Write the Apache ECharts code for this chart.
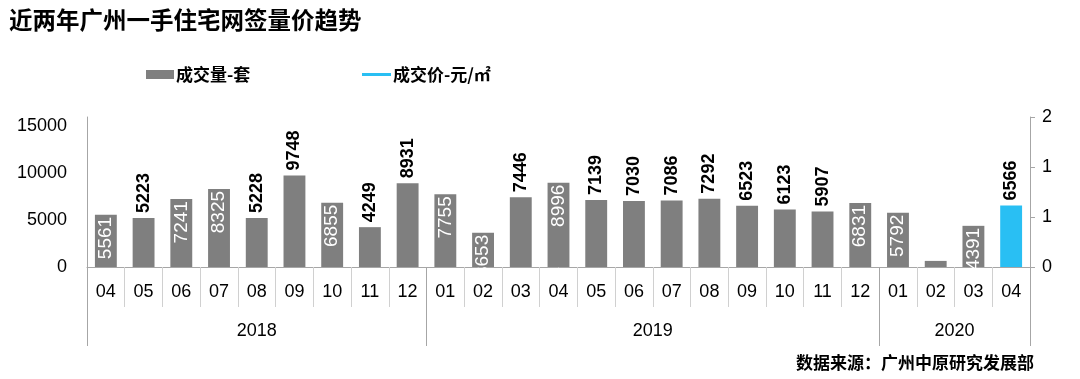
<!DOCTYPE html>
<html>
<head>
<meta charset="utf-8">
<script src="https://cdn.jsdelivr.net/npm/echarts@6/dist/echarts.min.js"></script>
<style>
html,body{margin:0;padding:0;background:#fff;}
#chart{width:1080px;height:379px;}
</style>
</head>
<body>
<div id="chart"></div>
<script>
// ---- data ----
const monthLabels = ['04','05','06','07','08','09','10','11','12',
  '01','02','03','04','05','06','07','08','09','10','11','12',
  '01','02','03','04'];
const years = ['2018','2019','2020'];
const monthsPerYear = [9, 12, 4];
const volume = [5561,5223,7241,8325,5228,9748,6855,4249,8931,
  7755,3653,7446,8996,7139,7030,7086,7292,6523,6123,5907,6831,
  5792,650,4391,6566];
const price = []; // price line is not visible within the right axis range
const leftTicks = [0, 5000, 10000, 15000];
const rightTickLabels = ['0','1','1','2'];
// label placement style per bar
const labelPlacement = ['in','top','in','in','top','top','in','top','top',
  'in','in','top','in','top','top','top','top','top','top','top','in',
  'in','none','in','top'];

// ---- build year (second-level) axis on half-month slots ----
const nSlots = monthLabels.length * 2 + 1;
const yearSlots = new Array(nSlots).fill('');
const yearBounds = [0];
let acc = 0;
years.forEach((y, i) => {
  const start = acc, end = acc + monthsPerYear[i];
  yearSlots[start + end] = y; // center in half-month units
  acc = end;
  yearBounds.push(acc * 2);
});

const FONT = "'Liberation Sans', 'Noto Sans CJK SC', sans-serif";
const CJK = "'Noto Sans CJK SC', sans-serif";
const GRAY = '#7f7f7f';
const CYAN = '#29bff3';

const barData = volume.map((v, i) => {
  const p = labelPlacement[i];
  let label;
  if (p === 'in') {
    label = {show: true, position: 'insideTop', rotate: 90, align: 'right', verticalAlign: 'middle',
      distance: 2, color: '#fff', fontSize: 19, fontFamily: FONT};
  } else if (p === 'top') {
    label = {show: true, position: 'top', rotate: 90, align: 'left', verticalAlign: 'middle',
      distance: 5, color: '#000', fontSize: 18, fontWeight: 'bold', fontFamily: FONT};
  } else {
    label = {show: false};
  }
  return {value: v, label: label,
    itemStyle: {color: i === volume.length - 1 ? CYAN : GRAY}};
});

const chart = echarts.init(document.getElementById('chart'));
chart.setOption({
  animation: false,
  backgroundColor: '#fff',
  title: {
    text: '近两年广州一手住宅网签量价趋势',
    left: 4, top: 3,
    textStyle: {fontFamily: CJK, fontSize: 23.5, fontWeight: 'bold', color: '#000'}
  },
  graphic: [{
    type: 'text', right: 46, top: 354,
    style: {text: '数据来源：广州中原研究发展部', fontFamily: CJK, fontSize: 17, fontWeight: 'bold', fill: '#000'}
  }],
  legend: [{
    data: [{name: '成交量-套', icon: 'rect'}],
    left: 141, top: 61, itemWidth: 28, itemHeight: 9, itemGap: 4,
    textStyle: {fontFamily: CJK, fontSize: 17, fontWeight: 'bold', color: '#000', padding: [0,0,0,-3]}
  }, {
    data: [{name: '成交价-元/㎡', icon: 'rect'}],
    left: 357, top: 61, itemWidth: 29, itemHeight: 3, itemGap: 4,
    textStyle: {fontFamily: CJK, fontSize: 17, fontWeight: 'bold', color: '#000', padding: [0,0,0,-3]}
  }],
  grid: {left: 87, right: 50, top: 117, bottom: 112, containLabel: false},
  xAxis: [{
    type: 'category',
    data: monthLabels,
    position: 'bottom',
    boundaryGap: true,
    axisLine: {show: true, lineStyle: {color: '#a6a6a6', width: 1}},
    axisTick: {show: true, interval: 0, length: 40, lineStyle: {color: '#d0d0d0'}},
    axisLabel: {interval: 0, margin: 16, fontSize: 18, color: '#000', fontFamily: FONT}
  }, {
    type: 'category',
    data: yearSlots,
    position: 'bottom',
    boundaryGap: false,
    axisLine: {show: false},
    axisTick: {show: true, length: 79, lineStyle: {color: '#a6a6a6'},
      interval: (idx) => yearBounds.indexOf(idx) >= 0},
    axisLabel: {interval: (idx, val) => val !== '', margin: 55, fontSize: 18, color: '#000', fontFamily: FONT}
  }],
  yAxis: [{
    type: 'value',
    min: 0, max: 16000, interval: 5000,
    axisLine: {show: true, lineStyle: {color: '#a6a6a6'}},
    axisTick: {show: false},
    splitLine: {show: false},
    axisLabel: {margin: 20, fontSize: 18, color: '#000', fontFamily: FONT,
      formatter: (v) => leftTicks.indexOf(v) >= 0 ? String(v) : ''}
  }, {
    type: 'value',
    min: 0, max: 2, interval: 2/3,
    position: 'right',
    axisLine: {show: true, lineStyle: {color: '#a6a6a6'}},
    axisTick: {show: true, length: 5, lineStyle: {color: '#a6a6a6'}},
    splitLine: {show: false},
    axisLabel: {margin: 12, fontSize: 18, color: '#000', fontFamily: FONT,
      formatter: (v) => rightTickLabels[Math.round(v * 1.5)] ?? ''}
  }],
  series: [{
    name: '成交量-套',
    type: 'bar',
    xAxisIndex: 0, yAxisIndex: 0,
    barWidth: '58%',
    itemStyle: {color: GRAY},
    data: barData
  }, {
    name: '成交价-元/㎡',
    type: 'line',
    xAxisIndex: 0, yAxisIndex: 1,
    itemStyle: {color: CYAN},
    lineStyle: {color: CYAN, width: 2},
    data: price
  }]
});
</script>
</body>
</html>
